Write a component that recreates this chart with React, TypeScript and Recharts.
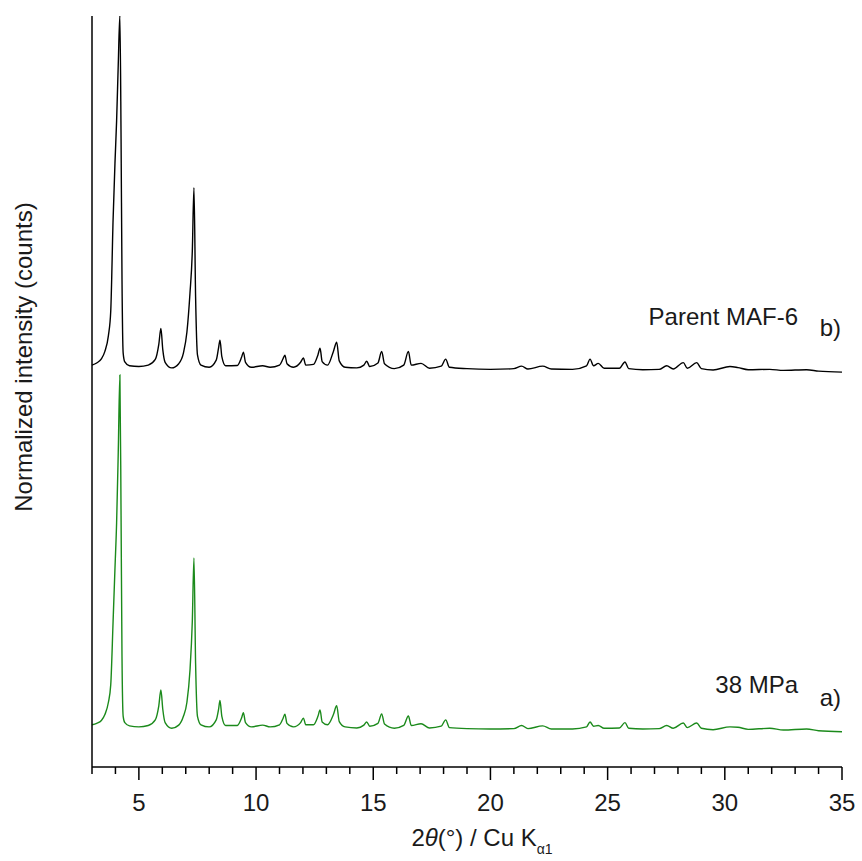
import React from 'react';
import { LineChart, Line, XAxis, YAxis } from 'recharts';

// 2θ positions (degrees)
const twoTheta = [
  3.0, 3.2, 3.4, 3.55, 3.7, 3.8, 3.9, 3.98, 4.05, 4.12, 4.19, 4.24, 4.28, 4.33, 4.4, 4.6,
  5.0, 5.4, 5.7, 5.85, 5.94, 6.02, 6.12, 6.4, 6.7, 6.9, 7.05, 7.18, 7.28, 7.35, 7.42, 7.5, 7.65,
  8.0, 8.3, 8.4, 8.46, 8.54, 8.7, 9.2, 9.38, 9.46, 9.55, 9.8, 10.28, 10.6,
  11.0, 11.15, 11.23, 11.32, 11.6, 11.9, 12.02, 12.12, 12.45, 12.64, 12.73, 12.82, 13.05,
  13.3, 13.44, 13.55, 13.8, 14.3, 14.6, 14.72, 14.85, 15.2, 15.36, 15.48, 15.9, 16.3, 16.5,
  16.62, 17.04, 17.4, 17.9, 18.09, 18.25, 19.0, 20.0, 21.0, 21.33, 21.6, 22.23, 22.6, 23.5,
  24.1, 24.25, 24.4, 24.6, 24.85, 25.5, 25.74, 25.9, 26.5, 27.2, 27.52, 27.8, 28.23, 28.4,
  28.8, 29.0, 29.5, 30.22, 30.56, 31.0, 31.92, 32.5, 33.49, 34.0, 35.0,
];

// a) 38 MPa, normalized intensity
const intensity38MPa = [
  0.006, 0.01, 0.018, 0.035, 0.07, 0.12, 0.3, 0.45, 0.58, 0.78, 1.0, 0.6, 0.2, 0.03, 0.012, 0.003,
  0.0, 0.004, 0.02, 0.06, 0.105, 0.05, 0.012, -0.004, 0.005, 0.03, 0.07, 0.16, 0.3, 0.48, 0.18, 0.03, 0.006,
  0.0, 0.02, 0.05, 0.075, 0.03, 0.004, 0.004, 0.025, 0.04, 0.012, 0.0, 0.005, 0.0,
  0.006, 0.024, 0.036, 0.01, 0.0, 0.012, 0.025, 0.006, 0.006, 0.03, 0.048, 0.014, 0.006,
  0.035, 0.06, 0.015, 0.0, -0.003, 0.005, 0.014, 0.002, 0.01, 0.037, 0.008, -0.004, 0.004, 0.031,
  0.004, 0.009, -0.003, 0.002, 0.02, -0.002, -0.005, -0.006, -0.005, 0.004, -0.005, 0.003, -0.006, -0.006,
  0.0, 0.014, 0.002, 0.004, -0.004, -0.003, 0.012, -0.004, -0.006, -0.005, 0.004, -0.004, 0.011, -0.002,
  0.011, -0.004, -0.008, 0.0, -0.001, -0.007, -0.004, -0.009, -0.006, -0.011, -0.014,
];

// b) Parent MAF-6, normalized intensity
const intensityParent = [
  0.006, 0.012, 0.024, 0.045, 0.09, 0.16, 0.42, 0.58, 0.7, 0.86, 1.0, 0.65, 0.25, 0.04, 0.015, 0.004,
  0.002, 0.006, 0.022, 0.065, 0.11, 0.05, 0.014, -0.002, 0.01, 0.04, 0.1, 0.21, 0.33, 0.51, 0.2, 0.035, 0.006,
  0.0, 0.02, 0.055, 0.077, 0.03, 0.004, 0.005, 0.028, 0.043, 0.014, 0.0, 0.004, 0.0,
  0.006, 0.024, 0.034, 0.01, 0.0, 0.014, 0.026, 0.006, 0.008, 0.035, 0.054, 0.016, 0.006,
  0.045, 0.071, 0.018, 0.0, -0.002, 0.006, 0.017, 0.002, 0.012, 0.045, 0.01, -0.004, 0.006, 0.045,
  0.006, 0.011, -0.003, 0.003, 0.023, 0.0, -0.004, -0.006, -0.004, 0.003, -0.005, 0.003, -0.005, -0.006,
  0.004, 0.023, 0.004, 0.011, -0.003, -0.003, 0.015, -0.004, -0.007, -0.006, 0.004, -0.005, 0.013, -0.003,
  0.013, -0.004, -0.008, 0.002, -0.001, -0.007, -0.006, -0.009, -0.007, -0.011, -0.014,
];

const xTicks = [3, 4, 5, 6, 7, 8, 9, 10, 11, 12, 13, 14, 15, 16, 17, 18, 19, 20, 21, 22, 23, 24, 25, 26, 27, 28, 29, 30, 31, 32, 33, 34, 35];

// vertical stacking of the two patterns
const offset38MPa = 0.114;
const offsetParent = 1.136;

const data = twoTheta.map((t, i) => ({
  t,
  a: intensity38MPa[i] + offset38MPa,
  b: intensityParent[i] + offsetParent,
}));

const FONT = '"Liberation Sans", Arial, Helvetica, sans-serif';
const TEXT = '#1a1a1a';

const AxisTick = (props: any) => {
  const { x, y, payload } = props;
  const major = payload.value % 5 === 0;
  return (
    <g>
      <line x1={x} x2={x} y1={y} y2={y + (major ? 13 : 7)} stroke="#000" strokeWidth={1.5} />
      {major && (
        <text x={x} y={y + 44} textAnchor="middle" fontSize={24} fontFamily={FONT} fill={TEXT}>
          {payload.value}
        </text>
      )}
    </g>
  );
};

const App: React.FC = () => {
  return (
    <div style={{ position: 'absolute', left: 0, top: 0, width: 862, height: 861, background: '#fff' }}>
      <LineChart width={862} height={861} data={data} margin={{ top: 16, right: 20, bottom: 0, left: 82 }}>
        <XAxis
          dataKey="t"
          type="number"
          domain={[3, 35]}
          ticks={xTicks}
          interval={0}
          tickSize={0}
          tickMargin={0}
          height={94}
          tick={<AxisTick />}
          axisLine={{ stroke: '#000', strokeWidth: 1.5 }}
        />
        <YAxis
          type="number"
          domain={[0, 2.134]}
          allowDataOverflow
          width={10}
          tick={false}
          tickLine={false}
          axisLine={{ stroke: '#000', strokeWidth: 1.5 }}
        />
        <Line type="monotoneX" dataKey="a" stroke="#1b8a1b" strokeWidth={1.4} dot={false} isAnimationActive={false} />
        <Line type="monotoneX" dataKey="b" stroke="#000" strokeWidth={1.4} dot={false} isAnimationActive={false} />
      </LineChart>
      <svg width={862} height={861} style={{ position: 'absolute', left: 0, top: 0, pointerEvents: 'none' }}>
        <text transform="translate(32, 357) rotate(-90)" textAnchor="middle" fontSize={24} fontFamily={FONT} fill={TEXT}>
          Normalized intensity (counts)
        </text>
        <text x={482} y={846} textAnchor="middle" fontSize={24} fontFamily={FONT} fill={TEXT}>
          2<tspan fontStyle="italic">θ</tspan>(°) / Cu K<tspan fontSize={14} dy={8}>α1</tspan>
        </text>
        <text x={798} y={325} textAnchor="end" fontSize={24} fontFamily={FONT} fill={TEXT}>Parent MAF-6</text>
        <text x={841} y={336} textAnchor="end" fontSize={24} fontFamily={FONT} fill={TEXT}>b)</text>
        <text x={798} y={693} textAnchor="end" fontSize={24} fontFamily={FONT} fill={TEXT}>38 MPa</text>
        <text x={841} y={706} textAnchor="end" fontSize={24} fontFamily={FONT} fill={TEXT}>a)</text>
      </svg>
    </div>
  );
};

export default App;
